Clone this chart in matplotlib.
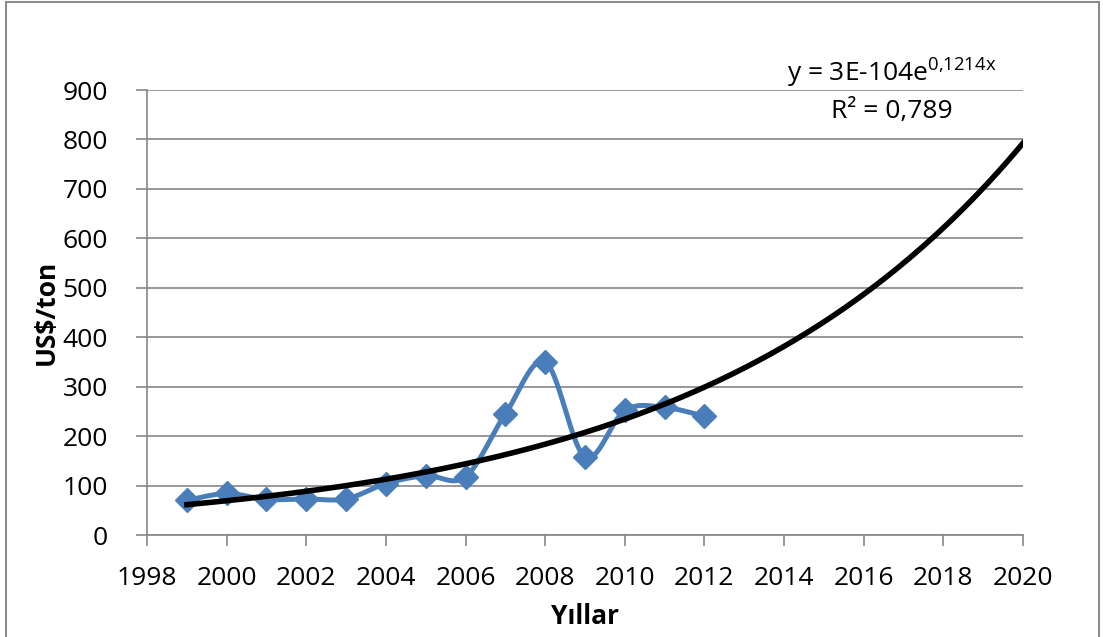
import numpy as np
import matplotlib
matplotlib.use("Agg")
import matplotlib.pyplot as plt
from matplotlib.patches import Rectangle

plt.rcParams['font.family'] = ['Open Sans', 'DejaVu Sans']
plt.rcParams['mathtext.fontset'] = 'custom'
plt.rcParams['mathtext.rm'] = 'Open Sans'
plt.rcParams['mathtext.it'] = 'Open Sans'

# data
years = [1999, 2000, 2001, 2002, 2003, 2004, 2005, 2006, 2007, 2008, 2009, 2010, 2011, 2012]
prices = [70, 84, 72, 73, 73, 104, 120, 118, 245, 350, 158, 252, 258, 240]
trend_start = 1999
trend_end = 2020
x_ticks = list(range(1998, 2021, 2))
y_ticks = list(range(0, 901, 100))

blue = '#4A7EBB'
gray = '#868686'


def smooth(x, y, n=30):
    # Excel-like smoothed line: cubic bezier between points, catmull-rom controls
    x = np.asarray(x, float)
    y = np.asarray(y, float)
    px = np.concatenate([[x[0]], x, [x[-1]]])
    py = np.concatenate([[y[0]], y, [y[-1]]])
    t = np.linspace(0, 1, n)
    xs, ys = [], []
    for i in range(1, len(px) - 2):
        p0 = np.array([px[i], py[i]])
        p3 = np.array([px[i + 1], py[i + 1]])
        c1 = p0 + (np.array([px[i + 1], py[i + 1]]) - np.array([px[i - 1], py[i - 1]])) / 6
        c2 = p3 - (np.array([px[i + 2], py[i + 2]]) - np.array([px[i], py[i]])) / 6
        pts = ((1 - t)[:, None] ** 3 * p0 + 3 * ((1 - t) ** 2 * t)[:, None] * c1
               + 3 * ((1 - t) * t ** 2)[:, None] * c2 + (t ** 3)[:, None] * p3)
        xs.append(pts[:, 0])
        ys.append(pts[:, 1])
    return np.concatenate(xs), np.concatenate(ys)


fig = plt.figure(figsize=(11.03, 6.37), dpi=100)
ax = fig.add_axes([0.1333, 0.1601, 0.7942, 0.6986])

# chart border
fig.patches.append(Rectangle((6 / 1103, -0.01), 1093 / 1103, 1.0 - 2 / 637 + 0.01,
                             transform=fig.transFigure, fill=False,
                             edgecolor='#8c8c8c', linewidth=1.5))

sx, sy = smooth(years, prices)
ax.plot(sx, sy, color=blue, linewidth=3.6, zorder=3)
ax.plot(years, prices, linestyle='none', marker='D', markersize=12,
        color=blue, zorder=4)

# exponential trendline fitted to the data
b, a = np.polyfit(years, np.log(prices), 1)
tx = np.linspace(trend_start, trend_end, 200)
ax.plot(tx, np.exp(a + b * tx), color='black', linewidth=4, zorder=5)

ax.set_xlim(1998, 2020)
ax.set_ylim(0, 900)
ax.set_xticks(x_ticks)
ax.set_yticks(y_ticks)
ax.grid(axis='y', color=gray, linewidth=1.2)
ax.set_axisbelow(True)
for s in ['top', 'right']:
    ax.spines[s].set_visible(False)
for s in ['left', 'bottom']:
    ax.spines[s].set_color(gray)
    ax.spines[s].set_linewidth(1.2)
ax.tick_params(axis='y', length=8, width=1.2, color=gray, pad=20, labelsize=19)
ax.tick_params(axis='x', length=8, width=1.2, color=gray, pad=14, labelsize=19)

ax.set_xlabel('Yıllar', fontsize=19, fontweight='bold', labelpad=9)
ax.set_ylabel('US$/ton', fontsize=19, fontweight='bold', labelpad=2)

fig.text(892 / 1103, 1 - 82 / 637, r'y = 3E-104e$^{\mathregular{0{,}1214x}}$', fontsize=19,
         ha='center', va='baseline')
fig.text(892 / 1103, 1 - 118 / 637, 'R² = 0,789', fontsize=19,
         ha='center', va='baseline')

fig.savefig('out.png', dpi=100)
